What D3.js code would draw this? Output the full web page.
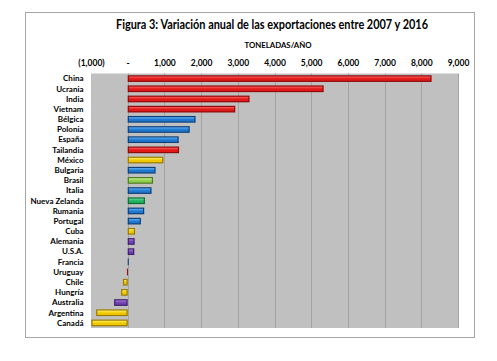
<!DOCTYPE html>
<html>
<head>
<meta charset="utf-8">
<script src="https://cdn.jsdelivr.net/npm/d3@7"></script>
<style>
  body { margin: 0; background: #fff; }
  svg { font-family: Lato, "Open Sans", sans-serif; }
</style>
</head>
<body>
<svg id="chart" width="497" height="361"></svg>
<script>
// Data
const countries = ["China", "Ucrania", "India", "Vietnam", "Bélgica", "Polonia", "España", "Tailandia",
  "México", "Bulgaria", "Brasil", "Italia", "Nueva Zelanda", "Rumania", "Portugal", "Cuba",
  "Alemania", "U.S.A.", "Francia", "Uruguay", "Chile", "Hungría", "Australia", "Argentina", "Canadá"];
const values = [8280, 5340, 3320, 2930, 1850, 1690, 1390, 1400,
  970, 760, 690, 650, 470, 450, 360, 200,
  190, 180, 30, -20, -130, -180, -370, -860, -990];
const groups = ["red", "red", "red", "red", "blue", "blue", "blue", "red",
  "yellow", "blue", "lime", "blue", "green", "blue", "blue", "yellow",
  "purple", "purple", "blue", "red", "yellow", "yellow", "purple", "yellow", "yellow"];
const tickValues = [-1000, 0, 1000, 2000, 3000, 4000, 5000, 6000, 7000, 8000, 9000];

const palette = {
  red:    { dark: "#8e0b0b", mid: "#e01818", light: "#ff5a5a" },
  blue:   { dark: "#0e3f78", mid: "#1f78d0", light: "#5fb0f5" },
  yellow: { dark: "#9a7a00", mid: "#f0c800", light: "#fff060" },
  lime:   { dark: "#4d7a1e", mid: "#8fd050", light: "#c8f090" },
  green:  { dark: "#0d6b35", mid: "#1fb060", light: "#60e095" },
  purple: { dark: "#3e1f6b", mid: "#7040b0", light: "#a878e0" }
};

const svg = d3.select("#chart");

// outer frame
svg.append("rect")
    .attr("x", 25.5).attr("y", 12.5)
    .attr("width", 449).attr("height", 325)
    .attr("fill", "#fff").attr("stroke", "#a6a6a6").attr("stroke-width", 1);

// titles
svg.append("text")
    .attr("x", 272).attr("y", 29)
    .attr("text-anchor", "middle")
    .attr("font-size", 12.5).attr("font-weight", "bold")
    .attr("textLength", 312).attr("lengthAdjust", "spacingAndGlyphs")
    .text("Figura 3: Variación anual de las exportaciones entre 2007 y 2016");

svg.append("text")
    .attr("x", 278).attr("y", 48)
    .attr("text-anchor", "middle")
    .attr("font-size", 8).attr("font-weight", "bold")
    .attr("textLength", 67).attr("lengthAdjust", "spacingAndGlyphs")
    .text("TONELADAS/AÑO");

const plot = { left: 91, right: 458, top: 73.5, bottom: 328 };

const x = d3.scaleLinear()
    .domain([-1000, 9000])
    .range([plot.left, plot.right]);

const y = d3.scaleBand()
    .domain(countries)
    .range([plot.top, plot.bottom])
    .paddingInner(0.34)
    .paddingOuter(0.17);

// defs: gradients per colour
const defs = svg.append("defs");
Object.entries(palette).forEach(([k, c]) => {
  const g = defs.append("linearGradient")
      .attr("id", "g-" + k)
      .attr("x1", 0).attr("y1", 0).attr("x2", 0).attr("y2", 1);
  g.append("stop").attr("offset", "0%").attr("stop-color", c.light);
  g.append("stop").attr("offset", "55%").attr("stop-color", c.mid);
  g.append("stop").attr("offset", "100%").attr("stop-color", c.mid);
});

// plot background
svg.append("rect")
    .attr("x", plot.left).attr("y", plot.top)
    .attr("width", plot.right - plot.left).attr("height", plot.bottom - plot.top)
    .attr("fill", "#c0c0c0");

// gridlines
svg.append("g")
  .selectAll("line")
  .data(tickValues.slice(1))
  .enter().append("line")
    .attr("x1", d => Math.round(x(d)) + 0.5).attr("x2", d => Math.round(x(d)) + 0.5)
    .attr("y1", plot.top).attr("y2", plot.bottom)
    .attr("stroke", "#a3a3a3").attr("stroke-width", 1);

// axis on top
const fmt = d => d === 0 ? "-" : d < 0 ? "(" + d3.format(",")(-d) + ")" : d3.format(",")(d);
const xAxis = d3.axisTop(x).tickValues(tickValues).tickFormat(fmt).tickSize(0).tickPadding(0);
const xAxisGroup = svg.append("g")
    .attr("transform", `translate(0,${plot.top - 8})`)
    .call(xAxis);
xAxisGroup.select(".domain").remove();
xAxisGroup.selectAll("text")
    .attr("font-size", 8.5).attr("font-weight", "bold")
    .attr("font-family", "Lato, sans-serif").attr("fill", "#000");

// category labels
svg.append("g")
  .selectAll("text")
  .data(countries)
  .enter().append("text")
    .attr("x", 83.5)
    .attr("y", d => y(d) + y.bandwidth() / 2)
    .attr("dy", "0.35em")
    .attr("text-anchor", "end")
    .attr("font-size", 8).attr("font-weight", "bold")
    .text(d => d);

// bars
const bars = svg.append("g")
  .selectAll("g")
  .data(countries.map((c, i) => ({ country: c, value: values[i], group: groups[i] })))
  .enter().append("g");

bars.append("rect")
    .attr("x", d => Math.min(x(0), x(d.value)))
    .attr("y", d => y(d.country))
    .attr("width", d => Math.max(1, Math.abs(x(d.value) - x(0))))
    .attr("height", y.bandwidth())
    .attr("fill", d => palette[d.group].dark);

bars.filter(d => Math.abs(x(d.value) - x(0)) > 3)
  .append("rect")
    .attr("x", d => Math.min(x(0), x(d.value)) + 1.2)
    .attr("y", d => y(d.country) + 1.2)
    .attr("width", d => Math.abs(x(d.value) - x(0)) - 2.4)
    .attr("height", y.bandwidth() - 2.4)
    .attr("fill", d => `url(#g-${d.group})`);
</script>
</body>
</html>
